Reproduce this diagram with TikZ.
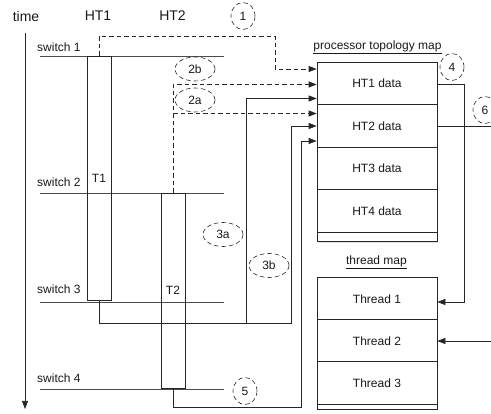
\documentclass[tikz,border=0pt]{standalone}
\usepackage{fontspec}
\setmainfont{Liberation Sans}
\usetikzlibrary{arrows.meta,shapes.geometric}
\begin{document}
\begin{tikzpicture}[x=1pt,y=-1pt,
  line/.style={draw=black!85,line width=0.7pt},
  swline/.style={draw=black!70,line width=0.7pt},
  dashline/.style={line,dash pattern=on 4.5pt off 3pt},
  arr/.style={-{Triangle[length=8pt,width=6pt]}},
  txt/.style={inner sep=0pt,text=black!90,font=\fontsize{12}{14}\selectfont},
  head/.style={inner sep=0pt,text=black!90,font=\fontsize{14}{16}\selectfont},
  cell/.style={draw=black!85,line width=0.7pt,minimum width=120pt,minimum height=42.5pt,inner sep=0pt,fill=white,text=black!90,font=\fontsize{12}{14}\selectfont},
  tbox/.style={draw=black!85,line width=0.7pt,minimum width=24pt,inner sep=0pt},
  tag/.style={ellipse,draw=black!85,line width=0.6pt,dash pattern=on 4.5pt off 3pt,minimum width=40pt,minimum height=24pt,inner sep=0pt,text=black!90,font=\fontsize{12}{14}\selectfont},
  num/.style={tag,minimum width=24pt,minimum height=27pt},
  shade/.style={fill=black!12}
]
\useasboundingbox (0,0) rectangle (491,414);

% headers
\node[head] (time) at (26,16) {time};
\node[head] (hh1) at (98,16) {HT1};
\node[head] (hh2) at (172.5,16) {HT2};
\node[num] (n1) at (243,16) {1};

% time axis
\coordinate (ta) at (25,33);
\coordinate (tb) at (25,409);
\draw[line,arr] (ta) -- (tb);

% switch lines
\foreach \y/\n/\ly in {56/1/47,193/2/182,302/3/289,389/4/378}{
  \coordinate (s\n a) at (40,\y);
  \coordinate (s\n b) at (224,\y);
  \draw[swline] (s\n a) -- (s\n b);
  \node[txt,anchor=west] (sl\n) at (37,\ly) {switch \n};
}

% thread bars
\node[tbox,minimum height=244pt] (t1) at (99,178) {};
\node[tbox,minimum height=195pt] (t2) at (173,290.5) {};
\node[txt] (t1l) at (99,178) {T1};
\node[txt] (t2l) at (173,290) {T2};

% processor topology map
\node[txt] (ptm) at (377.5,47) {\underline{processor topology map}};
\fill[shade] (318.2,63.2) rectangle (438.2,243.2);
\node[cell] (ht1) at (377,83.25) {HT1 data};
\node[cell] (ht2) at (377,125.75) {HT2 data};
\node[cell] (ht3) at (377,168.25) {HT3 data};
\node[cell] (ht4) at (377,210.75) {HT4 data};
\node[cell,minimum height=9.75pt] (pst) at (377,236.9) {};

% thread map
\node[txt] (tmt) at (376.5,262) {\underline{thread map}};
\fill[shade] (318.2,279.2) rectangle (438.2,410.2);
\node[cell] (th1) at (377,299) {Thread 1};
\node[cell] (th2) at (377,341) {Thread 2};
\node[cell] (th3) at (377,383) {Thread 3};
\node[cell,minimum height=5pt] (tst) at (377,406.5) {};

% level coordinates
\coordinate (c1) at (275,36);
\coordinate (y1) at (0,69);
\coordinate (y2b) at (0,84.5);
\coordinate (y3a) at (0,98.5);
\coordinate (y2a) at (0,113.5);
\coordinate (y3b) at (0,126);
\coordinate (y5) at (0,141);
\coordinate (k3) at (291,323);
\coordinate (k3a) at (246,323);
\coordinate (k5) at (301,407);
\coordinate (y4) at (0,84);
\coordinate (k4) at (464.5,302);
\coordinate (y6) at (0,126.5);
\coordinate (e6) at (491,126.5);
\coordinate (e7) at (491,341);

% 1: dashed from T1 start
\draw[dashline,arr] (t1.north) |- (c1) |- (ht1.west |- y1);
% 2a / 2b: dashed from T2 start
\draw[dashline,arr] (t2.north) |- (ht1.west |- y2b);
\draw[dashline,arr] (t2.north |- y2a) -- (ht2.west |- y2a);
% 3a / 3b: from T1 end
\draw[line,arr] (t1.south) |- (k3) |- (ht2.west |- y3b);
\draw[line,arr] (k3a) |- (ht1.west |- y3a);
% 5: from T2 end
\draw[line,arr] (t2.south) |- (k5) |- (ht2.west |- y5);
% 4: HT1 data to Thread 1
\draw[line,arr] (ht1.east |- y4) -| (k4) -- (th1.east |- k4);
% 6: HT2 data out
\draw[line] (ht2.east |- y6) -- (e6);
% into Thread 2
\draw[line,arr] (e7) -- (th2.east |- e7);

% tags
\node[tag] (l2b) at (195,69) {2b};
\node[tag] (l2a) at (195,100) {2a};
\node[tag] (l3a) at (223,234.5) {3a};
\node[tag] (l3b) at (269,265.5) {3b};
\node[num] (n4) at (452,67) {4};
\node[num] (n5) at (245,391) {5};
\node[num] (n6) at (485,110) {6};
\end{tikzpicture}
\end{document}
